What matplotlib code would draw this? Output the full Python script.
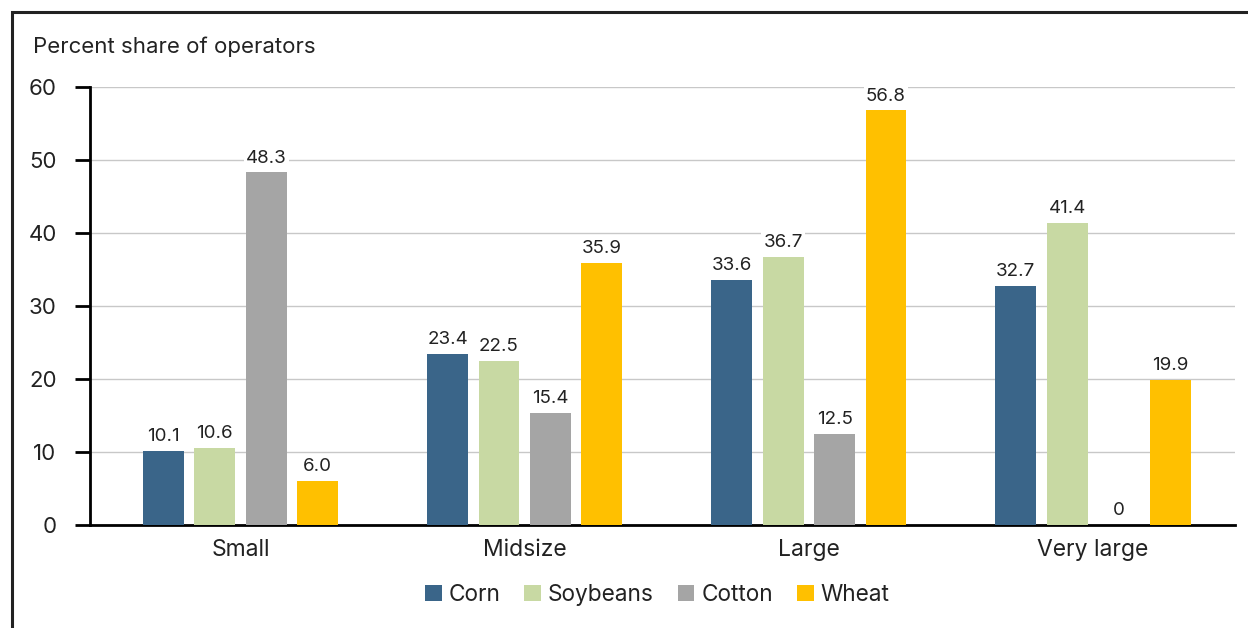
import matplotlib
matplotlib.use("Agg")
import matplotlib.pyplot as plt
import numpy as np
from matplotlib.patches import Rectangle

categories = ["Small", "Midsize", "Large", "Very large"]
series_names = ["Corn", "Soybeans", "Cotton", "Wheat"]
corn = [10.1, 23.4, 33.6, 32.7]
soybeans = [10.6, 22.5, 36.7, 41.4]
cotton = [48.3, 15.4, 12.5, 0]
wheat = [6.0, 35.9, 56.8, 19.9]
labels = {
    "Corn": ["10.1", "23.4", "33.6", "32.7"],
    "Soybeans": ["10.6", "22.5", "36.7", "41.4"],
    "Cotton": ["48.3", "15.4", "12.5", "0"],
    "Wheat": ["6.0", "35.9", "56.8", "19.9"],
}
y_ticks = [0, 10, 20, 30, 40, 50, 60]
colors = ["#3a6589", "#c8d9a3", "#a5a5a5", "#ffc000"]

plt.rcParams['font.family'] = ['Inter', 'DejaVu Sans']
TXT = "#222222"

fig = plt.figure(figsize=(12.48, 6.28), dpi=100)
W, H = 1248, 628
# frame
fig.add_artist(Rectangle((12 / W, -0.1), 1.2, (H - 12) / H + 0.1,
                         transform=fig.transFigure, fill=False,
                         edgecolor="#222222", linewidth=2.2))

ax = fig.add_axes([90 / W, 1 - 525 / H, (1235 - 90) / W, (525 - 87) / H])
data = [corn, soybeans, cotton, wheat]
x = np.arange(len(categories))
bw = 0.144
step = 0.181
for i, (name, vals) in enumerate(zip(series_names, data)):
    xs = x + (i - 1.5) * step
    ax.bar(xs, vals, width=bw, color=colors[i], label=name, zorder=3)
    for xx, v, lab in zip(xs, vals, labels[name]):
        ax.text(xx, v + 0.8, lab, ha="center", va="bottom", fontsize=13.5,
                color=TXT, zorder=4,
                bbox=dict(facecolor="white", edgecolor="none", pad=1.5))

ax.set_ylim(0, 60)
ax.set_xlim(-0.53, 3.5)
ax.set_yticks(y_ticks)
ax.set_xticks(x)
ax.set_xticklabels(categories)
ax.yaxis.grid(True, color="#c8c8c8", linewidth=1.0, zorder=0)
ax.set_axisbelow(True)
for s in ["top", "right"]:
    ax.spines[s].set_visible(False)
ax.spines["left"].set_linewidth(2)
ax.spines["bottom"].set_linewidth(2)
ax.tick_params(axis="y", length=11, width=2, labelsize=16, pad=13,
               labelcolor=TXT, direction="out")
ax.tick_params(axis="x", length=0, labelsize=16.5, pad=10, labelcolor=TXT)

fig.text(33 / W, 1 - 47 / H, "Percent share of operators", fontsize=16,
         color=TXT, ha="left", va="center")

leg = fig.legend(loc="center", bbox_to_anchor=(657 / W, 1 - 595 / H), ncol=4,
                 frameon=False, fontsize=16.3, handlelength=0.75,
                 handleheight=0.75, handletextpad=0.3, columnspacing=1.05)
for t in leg.get_texts():
    t.set_color(TXT)

fig.savefig("out.png", dpi=100)
